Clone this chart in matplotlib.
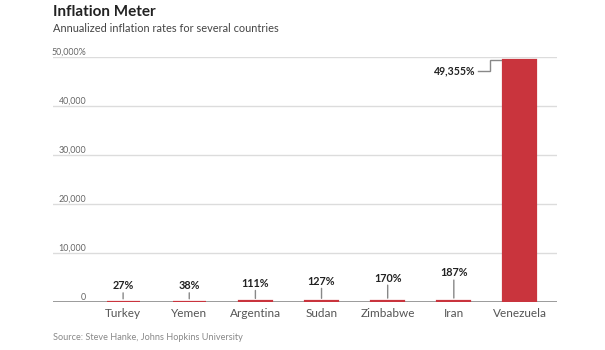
import matplotlib.pyplot as plt
import matplotlib.transforms as mtransforms

plt.rcParams['font.family'] = ['Lato', 'DejaVu Sans']

countries = ["Turkey", "Yemen", "Argentina", "Sudan", "Zimbabwe", "Iran", "Venezuela"]
rates = [27, 38, 111, 127, 170, 187, 49355]
value_labels = ["27%", "38%", "111%", "127%", "170%", "187%", "49,355%"]
ytick_values = [0, 10000, 20000, 30000, 40000, 50000]
ytick_labels = ["0", "10,000", "20,000", "30,000", "40,000", "50,000%"]

# leader line lengths (pixels) for the small bars
leader_px = [9, 9, 11, 13, 16, 21]

red = "#c9343d"

fig = plt.figure(figsize=(6.05, 3.5), dpi=100)
ax = fig.add_axes([53/605, 1 - 302/350, 504/605, 245/350])

x = list(range(len(countries)))
ax.bar(x, rates, width=0.5, color=red, edgecolor=red, linewidth=1.6, zorder=3)

ax.set_xlim(-1.06, 6.56)
ax.set_ylim(0, 50000)

# grid + tick labels drawn by hand (labels sit above the lines)
trans = mtransforms.blended_transform_factory(ax.transAxes, ax.transData)
for v, lab in zip(ytick_values, ytick_labels):
    if v > 0:
        ax.axhline(v, color="#dcdcdc", lw=1, zorder=1)
    ax.text(0.066, v, lab, transform=trans, ha="right", va="bottom",
            fontsize=6.4, color="#666666")
ax.axhline(0, color="#8a8a8a", lw=1.2, zorder=2)

for s in ax.spines.values():
    s.set_visible(False)
ax.set_yticks([])
ax.set_xticks(x)
ax.set_xticklabels(countries, fontsize=8.5, color="#555555")
ax.tick_params(axis="x", length=0, pad=4)

# value labels for the small bars
for i in range(len(countries) - 1):
    L = leader_px[i] * 0.72
    ax.annotate("", xy=(i, rates[i]), xytext=(0, L), textcoords="offset points",
                arrowprops=dict(arrowstyle="-", color="#888888", lw=1,
                                shrinkA=0, shrinkB=2.2))
    ax.annotate(value_labels[i], xy=(i, rates[i]), xytext=(0, L + 1.2),
                textcoords="offset points", ha="center", va="bottom",
                fontsize=7.8, fontweight="bold", color="#222222")

# Venezuela label with elbow connector
i = len(countries) - 1
px = 50000 / 245.0
left = i - 0.25
y_top = rates[i]
y_lab = y_top - 11 * px
ax.plot([left - 25/66, left - 13/66, left - 13/66, left],
        [y_lab, y_lab, y_top, y_top], color="#888888", lw=1, zorder=2,
        solid_joinstyle="miter")
ax.text(left - 28/66, y_lab, value_labels[i], ha="right", va="center",
        fontsize=7.6, fontweight="bold", color="#222222")

fig.text(53/605, 1 - 12/350, "Inflation Meter", ha="left", va="center",
         fontsize=11, fontweight="bold", color="#222222")
fig.text(53/605, 1 - 29/350, "Annualized inflation rates for several countries",
         ha="left", va="center", fontsize=7.9, color="#444444")
fig.text(53/605, 1 - 338/350, "Source: Steve Hanke, Johns Hopkins University",
         ha="left", va="center", fontsize=6.6, color="#888888")

fig.savefig("out.png", dpi=100)
